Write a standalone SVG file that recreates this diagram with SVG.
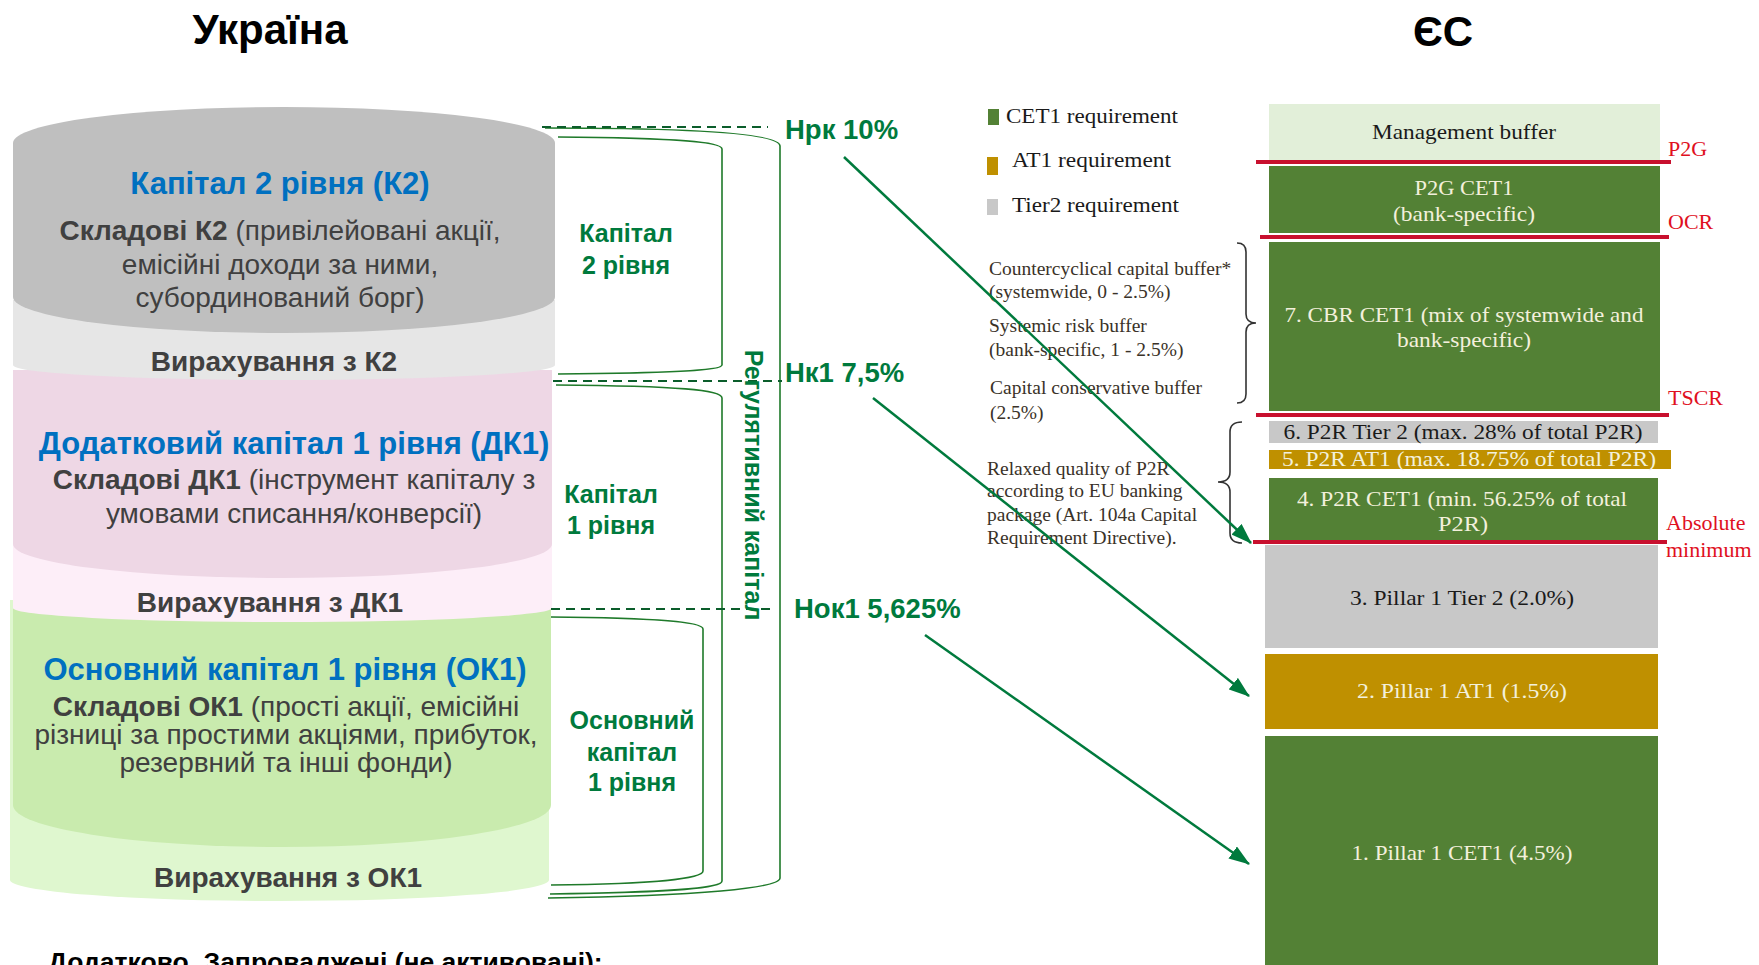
<svg xmlns="http://www.w3.org/2000/svg" width="1759" height="965" viewBox="0 0 1759 965">
<style>
.ar{font-family:"Liberation Sans",Arial,sans-serif}
.tm{font-family:"Liberation Serif","Times New Roman",serif}
.title{font-size:42px;font-weight:bold;fill:#000}
.blue{font-size:31px;font-weight:bold;fill:#0070C0}
.body{font-size:28px;fill:#404040}
.ded{font-size:28px;font-weight:bold;fill:#404040}
.glab{font-size:25px;font-weight:bold;fill:#007A3D}
.pct{font-size:27.5px;font-weight:bold;fill:#007A3D}
.leg{font-size:21px;fill:#1a1a1a}
.note{font-size:19.5px;fill:#3a3228}
.stk{font-size:21px}
.dk{fill:#1a1a1a}
.lt{fill:#F3F0DC}
.red{font-size:22px;fill:#E0101E}
.rl{stroke:#C8102E;stroke-width:4}
.br{fill:none;stroke:#1F7A2A;stroke-width:1.6}
.dash{stroke:#0B5D2B;stroke-width:2;stroke-dasharray:9,6}
.arrow{stroke:#007A3D;stroke-width:2.5;fill:none}
.brace{fill:none;stroke:#333;stroke-width:1.6}
</style>
<defs>
<marker id="ah" viewBox="0 0 20 14" refX="19" refY="7" markerWidth="21" markerHeight="15" markerUnits="userSpaceOnUse" orient="auto">
<path d="M0,0 L20,7 L0,14 Z" fill="#007A3D"/>
</marker>
</defs>

<text class="ar title" x="270" y="44" text-anchor="middle">Україна</text>
<text class="ar title" x="1443" y="46" text-anchor="middle">ЄС</text>

<g id="ua-cylinder">
<path d="M10,600 H549 V880 A269.5,21 0 0 1 10,880 Z" fill="#DFF7CF"/>
<path d="M13,600 H551 V805 A269,42 0 0 1 13,805 Z" fill="#C9EBAE"/>
<path d="M13,540 H552 V608 A269.5,14 0 0 1 13,608 Z" fill="#FDEEF8"/>
<path d="M13,370 H552 V544 A269.5,34 0 0 1 13,544 Z" fill="#EED7E5"/>
<path d="M13,300 H555 V365 A271,15 0 0 1 13,365 Z" fill="#E6E6E6"/>
<path d="M13,143 A271,36 0 0 1 555,143 V297 A271,36 0 0 1 13,297 Z" fill="#BFBFBF"/>
</g>

<g id="k2">
<text class="ar blue" x="280" y="194" text-anchor="middle">Капітал 2 рівня (К2)</text>
<text class="ar body" x="280" y="240" text-anchor="middle"><tspan font-weight="bold">Складові К2</tspan> (привілейовані акції,</text>
<text class="ar body" x="280" y="274" text-anchor="middle">емісійні доходи за ними,</text>
<text class="ar body" x="280" y="307" text-anchor="middle">субординований борг)</text>
<text class="ar ded" x="274" y="371" text-anchor="middle">Вирахування з К2</text>
</g>
<g id="dk1">
<text class="ar blue" x="294" y="454" text-anchor="middle">Додатковий капітал 1 рівня (ДК1)</text>
<text class="ar body" x="294" y="489" text-anchor="middle"><tspan font-weight="bold">Складові ДК1</tspan> (інструмент капіталу з</text>
<text class="ar body" x="294" y="523" text-anchor="middle">умовами списання/конверсії)</text>
<text class="ar ded" x="270" y="612" text-anchor="middle">Вирахування з ДК1</text>
</g>
<g id="ok1">
<text class="ar blue" x="285" y="680" text-anchor="middle">Основний капітал 1 рівня (ОК1)</text>
<text class="ar body" x="286" y="716" text-anchor="middle"><tspan font-weight="bold">Складові ОК1</tspan> (прості акції, емісійні</text>
<text class="ar body" x="286" y="744" text-anchor="middle">різниці за простими акціями, прибуток,</text>
<text class="ar body" x="286" y="772" text-anchor="middle">резервний та інші фонди)</text>
<text class="ar ded" x="288" y="887" text-anchor="middle">Вирахування з ОК1</text>
</g>

<g id="brackets">
<path class="br" d="M545,128 C700,128 780,134 780,146 V878 C780,888 700,896 548,898"/>
<path class="br" d="M558,137 C680,138 722,142 722,149 V365 C722,370 680,373 558,374"/>
<path class="br" d="M556,385 C680,386 722,390 722,398 V881 C722,888 680,892 550,894"/>
<path class="br" d="M551,617 C660,618 703,622 703,629 V871 C703,878 660,884 551,885"/>
<line class="dash" x1="542" y1="127" x2="768" y2="127"/>
<line class="dash" x1="553" y1="381" x2="782" y2="381"/>
<line class="dash" x1="551" y1="609" x2="776" y2="609"/>
</g>

<g id="labels-ua">
<text class="ar glab" x="626" y="242" text-anchor="middle">Капітал</text>
<text class="ar glab" x="626" y="274" text-anchor="middle">2 рівня</text>
<text class="ar glab" x="611" y="503" text-anchor="middle">Капітал</text>
<text class="ar glab" x="611" y="534" text-anchor="middle">1 рівня</text>
<text class="ar glab" x="632" y="729" text-anchor="middle">Основний</text>
<text class="ar glab" x="632" y="761" text-anchor="middle">капітал</text>
<text class="ar glab" x="632" y="791" text-anchor="middle">1 рівня</text>
<text class="ar glab" x="755" y="485" text-anchor="middle" font-size="29.5" transform="rotate(90 755 485) translate(0 10)">Регулятивний капітал</text>
<text class="ar pct" x="785" y="139">Нрк 10%</text>
<text class="ar pct" x="785" y="382">Нк1 7,5%</text>
<text class="ar pct" x="794" y="618">Нок1 5,625%</text>
</g>

<g id="legend">
<rect x="988" y="109" width="11" height="16" fill="#538135"/>
<text class="tm leg" x="1006" y="123" textLength="172" lengthAdjust="spacingAndGlyphs">CET1 requirement</text>
<rect x="987" y="157" width="11" height="18" fill="#BF9000"/>
<text class="tm leg" x="1012" y="167" textLength="159" lengthAdjust="spacingAndGlyphs">AT1 requirement</text>
<rect x="987" y="199" width="11" height="16" fill="#C8C8C8"/>
<text class="tm leg" x="1012" y="212" textLength="167" lengthAdjust="spacingAndGlyphs">Tier2 requirement</text>
</g>

<g id="notes">
<text class="tm note" x="989" y="275">Countercyclical capital buffer*</text>
<text class="tm note" x="989" y="298">(systemwide, 0 - 2.5%)</text>
<text class="tm note" x="989" y="332">Systemic risk buffer</text>
<text class="tm note" x="989" y="356">(bank-specific, 1 - 2.5%)</text>
<text class="tm note" x="990" y="394">Capital conservative buffer</text>
<text class="tm note" x="990" y="419">(2.5%)</text>
<text class="tm note" x="987" y="475">Relaxed quality of P2R</text>
<text class="tm note" x="987" y="497">according to EU banking</text>
<text class="tm note" x="987" y="521">package (Art. 104a Capital</text>
<text class="tm note" x="987" y="544">Requirement Directive).</text>
<path class="brace" d="M1237,243 Q1246,243 1246,252 L1246,314 Q1246,323 1256,323 Q1246,323 1246,332 L1246,394 Q1246,403 1237,403"/>
<path class="brace" d="M1242,422 Q1230,422 1230,432 L1230,472 Q1230,482 1218,482 Q1230,482 1230,492 L1230,533 Q1230,543 1242,543"/>
</g>

<g id="eu-stack">
<g id="mgmt"><rect x="1269" y="104" width="391" height="56" fill="#E2EFD9"/>
<text class="tm stk dk" x="1464" y="139" text-anchor="middle" textLength="184" lengthAdjust="spacingAndGlyphs">Management buffer</text></g>
<g id="p2g"><rect x="1269" y="166" width="391" height="67" fill="#538135"/>
<text class="tm stk lt" x="1464" y="195" text-anchor="middle" textLength="99" lengthAdjust="spacingAndGlyphs">P2G CET1</text>
<text class="tm stk lt" x="1464" y="221" text-anchor="middle" textLength="142" lengthAdjust="spacingAndGlyphs">(bank-specific)</text></g>
<g id="cbr"><rect x="1269" y="242" width="391" height="169" fill="#538135"/>
<text class="tm stk lt" x="1464" y="322" text-anchor="middle" textLength="359" lengthAdjust="spacingAndGlyphs">7. CBR CET1 (mix of systemwide and</text>
<text class="tm stk lt" x="1464" y="347" text-anchor="middle" textLength="134" lengthAdjust="spacingAndGlyphs">bank-specific)</text></g>
<g id="p2r-t2"><rect x="1269" y="421" width="389" height="22" fill="#C8C8C8"/>
<text class="tm stk dk" x="1463" y="439" text-anchor="middle" textLength="359" lengthAdjust="spacingAndGlyphs">6. P2R Tier 2 (max. 28% of total P2R)</text></g>
<g id="p2r-at1"><rect x="1269" y="450" width="402" height="19" fill="#BF9000"/>
<text class="tm stk lt" x="1469" y="466" text-anchor="middle" textLength="374" lengthAdjust="spacingAndGlyphs">5. P2R AT1 (max. 18.75% of total P2R)</text></g>
<g id="p2r-cet1"><rect x="1269" y="478" width="389" height="64" fill="#538135"/>
<text class="tm stk lt" x="1462" y="506" text-anchor="middle" textLength="330" lengthAdjust="spacingAndGlyphs">4. P2R CET1 (min. 56.25% of total</text>
<text class="tm stk lt" x="1463" y="531" text-anchor="middle" textLength="50" lengthAdjust="spacingAndGlyphs">P2R)</text></g>
<g id="p1-t2"><rect x="1265" y="545" width="393" height="103" fill="#C8C8C8"/>
<text class="tm stk dk" x="1462" y="605" text-anchor="middle" textLength="224" lengthAdjust="spacingAndGlyphs">3. Pillar 1 Tier 2 (2.0%)</text></g>
<g id="p1-at1"><rect x="1265" y="654" width="393" height="75" fill="#BF9000"/>
<text class="tm stk lt" x="1462" y="698" text-anchor="middle" textLength="210" lengthAdjust="spacingAndGlyphs">2. Pillar 1 AT1 (1.5%)</text></g>
<g id="p1-cet1"><rect x="1265" y="736" width="393" height="229" fill="#538135"/>
<text class="tm stk lt" x="1462" y="860" text-anchor="middle" textLength="221" lengthAdjust="spacingAndGlyphs">1. Pillar 1 CET1 (4.5%)</text></g>
</g>

<g id="thresholds">
<line class="rl" x1="1256" y1="162" x2="1671" y2="162"/>
<line class="rl" x1="1260" y1="237" x2="1669" y2="237"/>
<line class="rl" x1="1256" y1="415" x2="1669" y2="415"/>
<line class="rl" x1="1253" y1="542" x2="1667" y2="542"/>
<text class="tm red" x="1668" y="156">P2G</text>
<text class="tm red" x="1668" y="229">OCR</text>
<text class="tm red" x="1668" y="405">TSCR</text>
<text class="tm red" x="1666" y="530">Absolute</text>
<text class="tm red" x="1666" y="557">minimum</text>
</g>

<g id="connectors">
<line class="arrow" x1="844" y1="157" x2="1251" y2="543" marker-end="url(#ah)"/>
<line class="arrow" x1="873" y1="398" x2="1249" y2="696" marker-end="url(#ah)"/>
<line class="arrow" x1="925" y1="635" x2="1249" y2="864" marker-end="url(#ah)"/>
</g>

<text class="ar" x="48" y="971" font-size="26.5" font-weight="bold" fill="#000">Додатково. Запроваджені (не активовані):</text>
</svg>
